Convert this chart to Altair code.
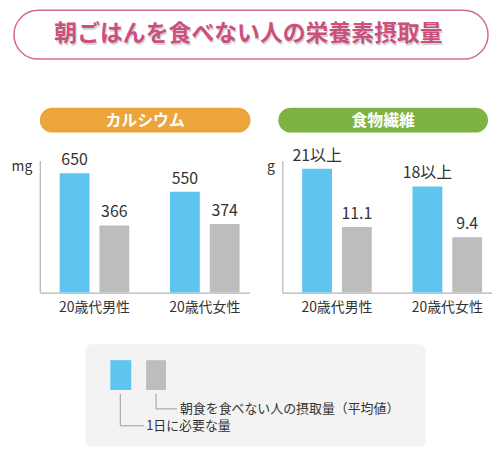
import pandas as pd
import altair as alt

# ---- data ----
title = "朝ごはんを食べない人の栄養素摂取量"
groups = ["20歳代男性", "20歳代女性"]
series = ["1日に必要な量", "朝食を食べない人の摂取量（平均値）"]

ca_name = "カルシウム"
ca_unit = "mg"
ca_need = [650, 550]
ca_actual = [366, 374]
ca_need_labels = ["650", "550"]
ca_actual_labels = ["366", "374"]

fib_name = "食物繊維"
fib_unit = "g"
fib_need = [21, 18]
fib_actual = [11.1, 9.4]
fib_need_labels = ["21以上", "18以上"]
fib_actual_labels = ["11.1", "9.4"]

BLUE = "#5ec4f0"
GRAY = "#bdbdbd"
ORANGE = "#eba53b"
GREEN = "#7db342"
PINK = "#cc4f7d"
FONT = "Noto Sans CJK JP"

one = pd.DataFrame({"k": [0]})


def make_df(need, actual, need_labels, actual_labels):
    rows = []
    for i, g in enumerate(groups):
        rows.append({"group": g, "series": series[0], "value": need[i], "label": need_labels[i]})
        rows.append({"group": g, "series": series[1], "value": actual[i], "label": actual_labels[i]})
    return pd.DataFrame(rows)


def make_panel(df, unit, ymax, width):
    base = alt.Chart(df).encode(
        x=alt.X(
            "group:N",
            sort=groups,
            scale=alt.Scale(paddingInner=0.369, paddingOuter=0.135, align=0.667),
            axis=alt.Axis(
                title=None,
                ticks=False,
                labelAngle=0,
                labelPadding=8,
                labelFontSize=14,
                labelColor="#333333",
                labelFont=FONT,
                domainColor="#b5b5b5",
                domainWidth=1.2,
            ),
        ),
        xOffset=alt.XOffset("series:N", sort=series, scale=alt.Scale(paddingInner=0.25, paddingOuter=0)),
        y=alt.Y(
            "value:Q",
            scale=alt.Scale(domain=[0, ymax], nice=False),
            axis=alt.Axis(
                title=unit,
                titleAngle=0,
                titleX=-8,
                titleY=6,
                titleAlign="right",
                titleBaseline="middle",
                titleFontSize=14,
                titleFontWeight="normal",
                titleColor="#333333",
                titleFont=FONT,
                labels=False,
                ticks=False,
                grid=False,
                domainColor="#b5b5b5",
                domainWidth=1.2,
            ),
        ),
    )
    bars = base.mark_bar().encode(
        color=alt.Color("series:N", scale=alt.Scale(domain=series, range=[BLUE, GRAY]), legend=None)
    )
    labels = base.mark_text(
        baseline="alphabetic", dy=-8, fontSize=16, font=FONT, color="#333333"
    ).encode(text="label:N")
    return (bars + labels).properties(width=width, height=133)


def spacer(w, h):
    return alt.Chart(one).mark_point(opacity=0).encode(
        x=alt.value(0), y=alt.value(0)
    ).properties(width=w, height=h)


# ---- header: title box and the two pills ----
title_box = alt.Chart(one).mark_rect(
    fill="white", stroke="#d56a90", strokeWidth=1.5, cornerRadius=26
).encode(x=alt.value(3), x2=alt.value(480), y=alt.value(1), y2=alt.value(50))
title_shadow = alt.Chart(one).mark_text(
    text=title, fontSize=23, fontWeight="bold", font=FONT, color="#888888", opacity=0.35
).encode(x=alt.value(240), y=alt.value(27))
title_text = alt.Chart(one).mark_text(
    text=title, fontSize=23, fontWeight="bold", font=FONT, color=PINK
).encode(x=alt.value(239), y=alt.value(25))


def pill(x0, x1, color, label):
    shape = alt.Chart(one).mark_rect(fill=color, cornerRadius=12.5).encode(
        x=alt.value(x0), x2=alt.value(x1), y=alt.value(99), y2=alt.value(124)
    )
    text = alt.Chart(one).mark_text(
        text=label, fontSize=16, fontWeight="bold", font=FONT, color="white"
    ).encode(x=alt.value((x0 + x1) / 2), y=alt.value(112))
    return shape + text


header = alt.layer(
    title_box, title_shadow, title_text,
    pill(29, 241, ORANGE, ca_name),
    pill(269, 480, GREEN, fib_name),
).properties(width=484, height=152)

# ---- the two bar panels ----
left = make_panel(make_df(ca_need, ca_actual, ca_need_labels, ca_actual_labels), ca_unit, 720, 211)
right = make_panel(make_df(fib_need, fib_actual, fib_need_labels, fib_actual_labels), fib_unit, 22.4, 211)
row = alt.hconcat(spacer(29, 133), left, spacer(33, 133), right, spacing=0, bounds="flush")

# ---- legend diagram (the nested row takes no height in the flush layout,
# so this view starts right under the header) ----
LINE = "#9a9a9a"
T = 185  # top of the grey legend box inside this view
legend_box = alt.Chart(one).mark_rect(fill="#f3f3f3", cornerRadius=6).encode(
    x=alt.value(75), x2=alt.value(417), y=alt.value(T), y2=alt.value(T + 103)
)
sw_blue = alt.Chart(one).mark_rect(fill=BLUE).encode(
    x=alt.value(100), x2=alt.value(121), y=alt.value(T + 16), y2=alt.value(T + 46)
)
sw_gray = alt.Chart(one).mark_rect(fill=GRAY).encode(
    x=alt.value(136), x2=alt.value(156), y=alt.value(T + 16), y2=alt.value(T + 46)
)
blue_v = alt.Chart(one).mark_rule(color=LINE).encode(
    x=alt.value(110), y=alt.value(T + 50), y2=alt.value(T + 82)
)
blue_h = alt.Chart(one).mark_rule(color=LINE).encode(
    x=alt.value(110), x2=alt.value(134), y=alt.value(T + 82)
)
gray_v = alt.Chart(one).mark_rule(color=LINE).encode(
    x=alt.value(146), y=alt.value(T + 50), y2=alt.value(T + 65)
)
gray_h = alt.Chart(one).mark_rule(color=LINE).encode(
    x=alt.value(146), x2=alt.value(167), y=alt.value(T + 65)
)
blue_txt = alt.Chart(one).mark_text(
    text=series[0], align="left", baseline="middle", fontSize=13, font=FONT, color="#333333"
).encode(x=alt.value(136), y=alt.value(T + 82))
gray_txt = alt.Chart(one).mark_text(
    text=series[1], align="left", baseline="middle", fontSize=13, font=FONT, color="#333333"
).encode(x=alt.value(170), y=alt.value(T + 65))

legend = alt.layer(
    legend_box, sw_blue, sw_gray, blue_v, blue_h, gray_v, gray_h, blue_txt, gray_txt
).properties(width=484, height=290)

chart = alt.vconcat(header, row, legend, spacing=0, bounds="flush").properties(
    padding=0, background="white"
).configure_view(stroke=None)

chart.save("out.html", embed_options={"renderer": "svg", "actions": False})
